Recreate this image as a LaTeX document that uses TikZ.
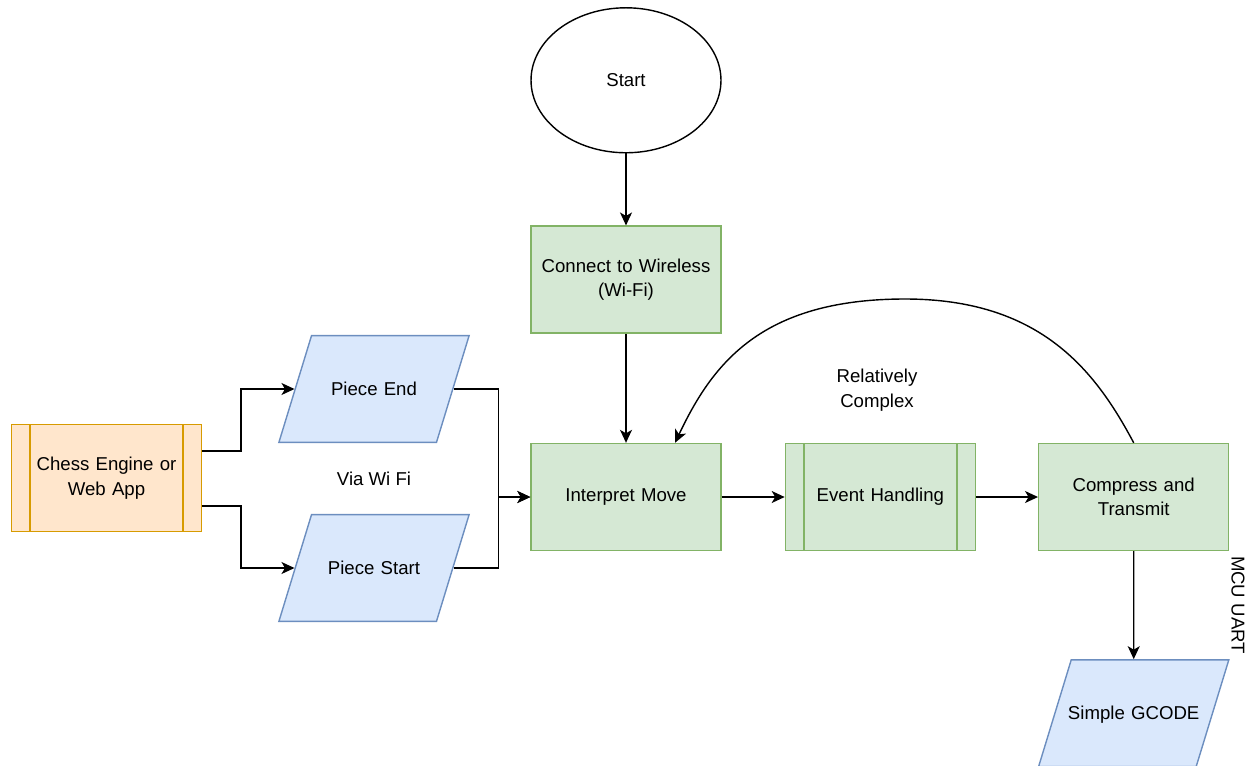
\documentclass[tikz,border=0pt]{standalone}
\usepackage{fontspec}
\setmainfont{Liberation Sans}
\usepackage{xcolor}
\usepackage{tikz}
\usetikzlibrary{shapes,arrows,positioning,calc,arrows.meta,shapes.misc,shapes.geometric}
\definecolor{greenFill}{HTML}{D5E8D4}
\definecolor{greenLine}{HTML}{82B366}
\definecolor{blueFill}{HTML}{DAE8FC}
\definecolor{blueLine}{HTML}{6C8EBF}
\definecolor{orangeFill}{HTML}{FFE6CC}
\definecolor{orangeLine}{HTML}{D79B00}
\tikzset{
  stepBox/.style={
    rectangle,
    draw=greenLine,
    fill=greenFill,
    line width=0.8pt,
    text width=3.5cm,
    minimum width=3.8cm,
    minimum height=2.14cm,
    align=center
  },
  processLines/.style={
    path picture={
      \draw[#1, line width=0.9pt] ([xshift=0.37cm]path picture bounding box.north west) -- ([xshift=0.37cm]path picture bounding box.south west);
      \draw[#1, line width=0.9pt] ([xshift=-0.37cm]path picture bounding box.north east) -- ([xshift=-0.37cm]path picture bounding box.south east);
    }
  },
  dataBox/.style={
    trapezium,
    trapezium left angle=73,
    trapezium right angle=107,
    draw=blueLine,
    fill=blueFill,
    line width=0.8pt,
    text width=3.2cm,
    text height=8.5pt,
    text depth=1pt,
    inner xsep=-0.35cm,
    inner ysep=25.6pt,
    align=center
  },
  sourceBox/.style={
    rectangle,
    draw=orangeLine,
    fill=orangeFill,
    line width=0.8pt,
    text width=3.5cm,
    minimum width=3.8cm,
    minimum height=2.14cm,
    align=center,
    processLines=orangeLine
  },
  terminal/.style={
    ellipse,
    draw=black,
    line width=0.8pt,
    minimum width=3.8cm,
    minimum height=2.9cm
  },
  arrowLine/.style={
    -{Stealth[length=2.6mm,width=2.4mm,inset=0.7mm]},
    line width=0.8pt
  },
  plainLabel/.style={
    align=center
  }
}

\begin{document}
\begin{tikzpicture}[
            x=0.02cm, y=-0.02cm,
            every node/.style={font=\fontsize{10.6}{14}\selectfont}
        ]
        \useasboundingbox (0,0) rectangle (1254,765);

        % main line
        \node[stepBox] (interpretMove) at (626,497) {Interpret Move};
        \node[stepBox, above=2.18cm of interpretMove] (connectWifi) {Connect to Wireless\\(Wi-Fi)};
        \node[terminal, above=1.44cm of connectWifi] (startNode) {Start};
        \node[stepBox, processLines=greenLine, right=1.26cm of interpretMove] (eventHandling) {Event Handling};
        \node[stepBox, right=1.24cm of eventHandling] (compressTx) {Compress and\\Transmit};
        \node[dataBox, below=2.16cm of compressTx] (simpleGcode) {Simple GCODE};

        % input side
        \node[sourceBox] (chessEngine) at (106.5,478) {Chess Engine or\\Web App};
        \node[dataBox] (pieceEnd) at (374,389) {Piece End};
        \node[dataBox] (pieceStart) at (374,568) {Piece Start};

        % labels
        \node[plainLabel] (viaWifi) at (374,479) {Via Wi Fi};
        \node[plainLabel] (complexNote) at (877,390) {Relatively\\Complex};
        \node[plainLabel, rotate=-90] (mcuUart) at (1238,605) {MCU UART};

        \coordinate (loopTop) at (905,299);

        \draw[arrowLine] (startNode) -- (connectWifi);
        \draw[arrowLine] (connectWifi) -- (interpretMove);
        \draw[arrowLine] ([yshift=0.54cm]chessEngine.east) -- ++(39,0) |- (pieceEnd.west);
        \draw[arrowLine] ([yshift=-0.56cm]chessEngine.east) -- ++(39,0) |- (pieceStart.west);
        \draw[arrowLine] (pieceEnd.east) -- ++(45,0) |- (interpretMove.west);
        \draw[arrowLine] (pieceStart.east) -- ++(45,0) |- (interpretMove.west);
        \draw[arrowLine] (interpretMove) -- (eventHandling);
        \draw[arrowLine] (eventHandling) -- (compressTx);
        \draw[arrowLine] (compressTx) -- (simpleGcode);
        \draw[arrowLine] (compressTx.north) .. controls (1095,370) and (1040,299) .. (loopTop)
            .. controls (760,299) and (712,365) .. ([xshift=0.98cm]interpretMove.north);

    \end{tikzpicture}
\end{document}
